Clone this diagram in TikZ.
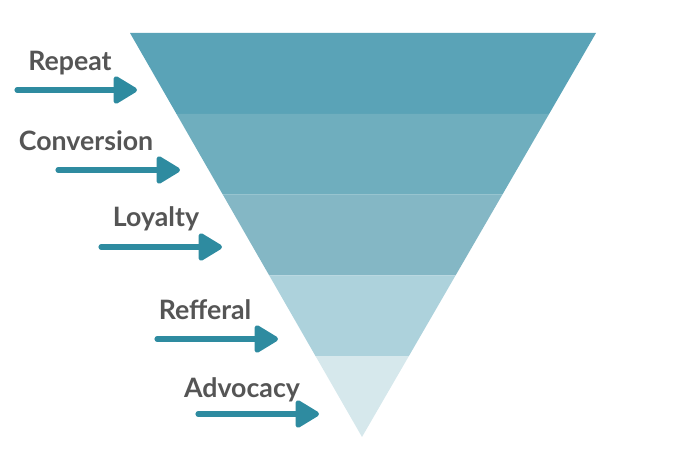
\documentclass[tikz,border=0pt]{standalone}
\usepackage{fontspec}
\setmainfont{Lato}
\usepackage{tkz-euclide}
\usetikzlibrary{arrows.meta}
\definecolor{bandA}{HTML}{5AA3B7}
\definecolor{bandB}{HTML}{6FAEBE}
\definecolor{bandC}{HTML}{84B7C5}
\definecolor{bandD}{HTML}{ADD2DC}
\definecolor{bandE}{HTML}{D6E8EC}
\definecolor{flowcol}{HTML}{2E8BA0}
\definecolor{labelcol}{HTML}{555555}
\tikzset{
  flow/.style = {draw=flowcol, line width=2.9pt, line cap=round,
                 -{Triangle[length=5.2mm, width=6mm, round]}},
  stage/.style = {anchor=base, inner sep=0pt, text=labelcol,
                  font=\fontsize{15.2}{18}\selectfont\bfseries}
}

\begin{document}
\begin{tikzpicture}
                    \useasboundingbox (0,0) rectangle (13.56,9.48);
                    \tkzDefPoints{2.6/8.82/A,11.92/8.82/B,7.24/0.74/C}
                    \tkzDefPointOnLine[pos=0.2](A,C) \tkzGetPoint{a1}
                    \tkzDefPointOnLine[pos=0.4](A,C) \tkzGetPoint{a2}
                    \tkzDefPointOnLine[pos=0.6](A,C) \tkzGetPoint{a3}
                    \tkzDefPointOnLine[pos=0.8](A,C) \tkzGetPoint{a4}
                    \tkzDefPointOnLine[pos=0.2](B,C) \tkzGetPoint{b1}
                    \tkzDefPointOnLine[pos=0.4](B,C) \tkzGetPoint{b2}
                    \tkzDefPointOnLine[pos=0.6](B,C) \tkzGetPoint{b3}
                    \tkzDefPointOnLine[pos=0.8](B,C) \tkzGetPoint{b4}
                    \tkzFillPolygon[color=bandA](A,B,b1,a1)
                    \tkzFillPolygon[color=bandB](a1,b1,b2,a2)
                    \tkzFillPolygon[color=bandC](a2,b2,b3,a3)
                    \tkzFillPolygon[color=bandD](a3,b3,b4,a4)
                    \tkzFillPolygon[color=bandE](a4,b4,C)
                    \tkzDefPoints{0.34/7.68/s1,2.74/7.68/t1,1.16/6.08/s2,3.60/6.08/t2,
                                  2.02/4.54/s3,4.44/4.54/t3,3.14/2.70/s4,5.56/2.70/t4,
                                  3.96/1.20/s5,6.38/1.20/t5}
                    \tkzDrawSegments[flow](s1,t1 s2,t2 s3,t3 s4,t4 s5,t5)
                    \node[stage] (repeat)     at (1.40,8.06) {Repeat};
                    \node[stage] (conversion) at (1.72,6.46) {Conversion};
                    \node[stage] (loyalty)    at (3.12,4.94) {Loyalty};
                    \node[stage] (refferal)   at (4.10,3.08) {Refferal};
                    \node[stage] (advocacy)   at (4.84,1.52) {Advocacy};
                \end{tikzpicture}
\end{document}
